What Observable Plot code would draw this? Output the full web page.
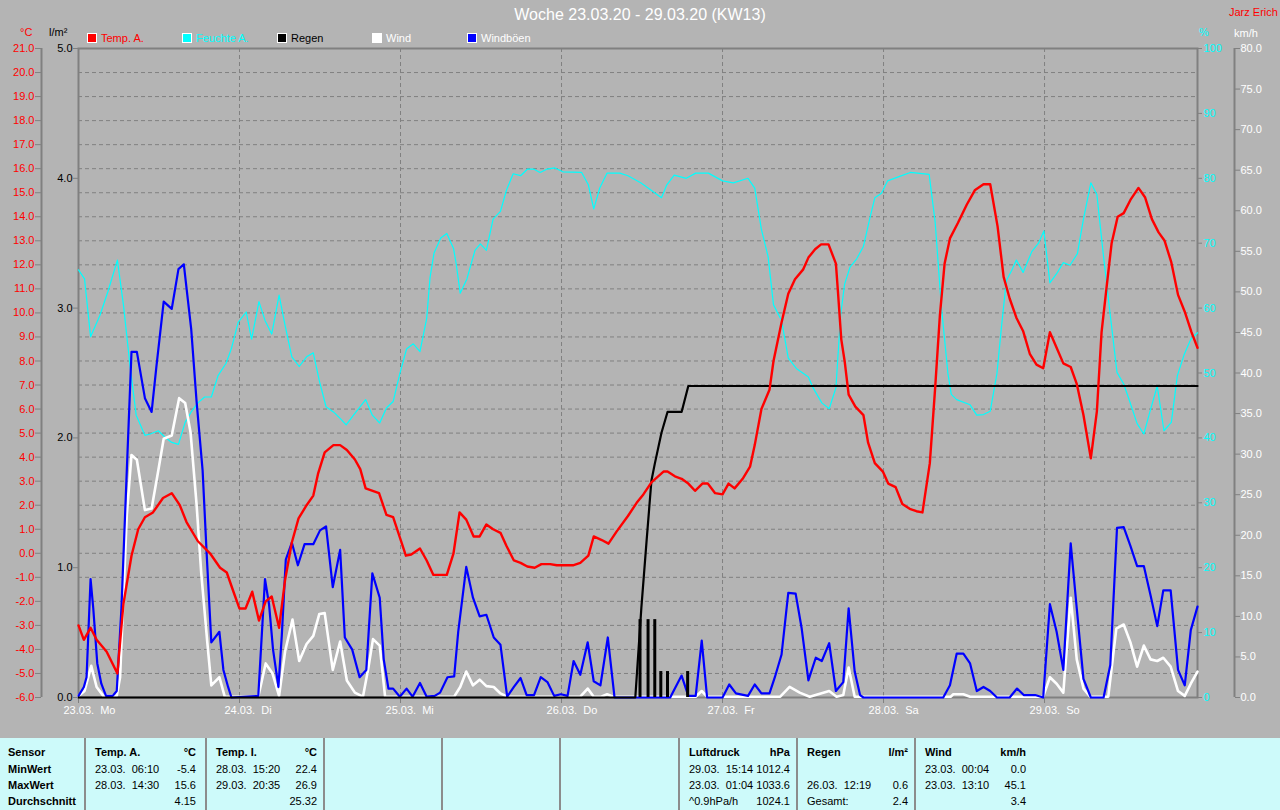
<!DOCTYPE html>
<html>
<head>
<meta charset="utf-8">
<script src="https://cdn.jsdelivr.net/npm/d3@7"></script>
<script src="https://cdn.jsdelivr.net/npm/@observablehq/plot@0.6"></script>
<style>
  body { margin: 0; }
  #root { position: relative; width: 1280px; height: 810px; background: #b4b4b4; overflow: hidden;
          font-family: "Liberation Sans", Arial, sans-serif; font-size: 11px; }
  .abs { position: absolute; white-space: pre; line-height: 14px; }
  .layer { position: absolute; left: 0; top: 0; }
  .sq { position: absolute; width: 10px; height: 10px; box-sizing: border-box; border: 1px solid #fff; }
  #table { position: absolute; left: 0; top: 738px; width: 1280px; height: 72px; background: #cdfafa; }
  .col { position: absolute; top: 0; height: 72px; border-left: 2px solid #8c8c8c; box-sizing: border-box; }
  .cell { position: absolute; white-space: pre; line-height: 14px; color: #000; }
  .b { font-weight: bold; }
</style>
</head>
<body>
<div id="root"></div>
<script>
// ---------------- data ----------------
const dayHours = [0, 24, 48, 72, 96, 120, 144];
const dayLabels = ["23.03.\u00a0\u00a0Mo", "24.03.\u00a0\u00a0Di", "25.03.\u00a0\u00a0Mi", "26.03.\u00a0\u00a0Do", "27.03.\u00a0\u00a0Fr", "28.03.\u00a0\u00a0Sa", "29.03.\u00a0\u00a0So"];
const endHour = 166.8;

const tempHours = [0,0.8,1.8,2.7,4.2,5.8,6.7,7.9,8.9,9.9,11.1,12.6,13.9,15.1,16.1,17.8,19.6,21.1,22.1,23.1,24.0,24.9,25.9,26.9,27.9,28.8,29.9,30.8,31.8,32.8,34.0,35.0,35.7,36.7,38.0,39.0,40.0,41.2,42.0,42.8,44.8,45.9,46.9,48.8,49.6,50.9,51.9,52.9,54.9,55.9,56.8,57.8,58.9,59.8,60.8,61.8,62.9,63.8,64.9,65.9,66.9,68.0,69.0,70.3,71.3,72.8,73.7,74.8,76.0,76.8,78.0,79.0,80.2,81.9,83.2,84.2,85.4,87.2,87.8,88.9,89.9,90.9,91.9,93.0,93.8,94.9,96.0,96.9,97.8,99.0,100.1,100.8,101.8,103.0,103.6,104.8,105.8,106.8,108.0,108.8,109.8,110.7,111.8,112.9,113.2,113.7,114.2,114.8,115.8,117.0,117.7,118.7,119.9,120.7,121.8,122.8,123.9,124.9,125.8,126.9,127.7,128.4,129.1,129.9,131.1,132.4,133.6,134.9,135.9,137.0,137.9,138.8,139.8,140.8,141.8,142.8,143.8,144.8,145.8,146.8,147.9,148.8,149.8,150.9,151.8,152.5,153.3,154.0,154.9,155.8,156.8,158.0,159.0,160.0,161.0,161.9,162.9,163.9,164.9,165.9,166.8];
const tempValues = [-3.0,-3.6,-3.1,-3.6,-4.1,-5.0,-2.1,-0.1,1.0,1.5,1.7,2.3,2.5,2.0,1.3,0.5,0.0,-0.6,-0.8,-1.6,-2.3,-2.3,-1.6,-2.8,-2.0,-1.8,-3.1,-1.1,0.45,1.45,2.0,2.4,3.3,4.2,4.5,4.5,4.3,3.9,3.5,2.7,2.5,1.6,1.5,-0.1,-0.05,0.2,-0.3,-0.9,-0.9,0.0,1.7,1.4,0.7,0.7,1.2,1.0,0.85,0.3,-0.3,-0.4,-0.55,-0.6,-0.45,-0.45,-0.5,-0.5,-0.5,-0.4,-0.1,0.7,0.55,0.4,0.9,1.55,2.1,2.45,2.95,3.4,3.4,3.2,3.1,2.9,2.6,2.9,2.9,2.5,2.45,2.9,2.7,3.1,3.6,4.5,6.0,6.8,8.0,9.6,10.8,11.4,11.8,12.3,12.65,12.85,12.85,12.05,10.9,8.9,8.0,6.6,6.1,5.75,4.6,3.75,3.4,2.9,2.75,2.05,1.85,1.75,1.7,3.75,6.9,9.9,12.05,13.1,13.75,14.5,15.1,15.35,15.35,13.6,11.5,10.6,9.8,9.25,8.3,7.85,7.7,9.2,8.55,7.9,7.75,7.05,5.75,3.95,5.9,9.2,11.2,12.9,14.0,14.15,14.7,15.2,14.8,13.9,13.35,13.0,12.1,10.75,10.05,9.2,8.55];

const humHours = [0,0.9,1.8,3.2,4.4,5.8,6.7,7.7,8.6,9.9,10.7,11.9,12.9,13.9,14.9,15.9,16.8,17.8,18.8,19.8,20.8,22.0,22.8,23.8,25.0,25.8,26.9,27.8,28.8,29.9,30.8,31.8,32.9,34.0,35.0,35.9,36.9,38.0,39.0,39.9,41.0,42.8,43.8,44.9,45.9,46.9,47.9,48.9,49.9,50.9,51.9,52.4,53.0,54.0,54.9,55.9,56.3,56.9,57.9,59.1,59.9,60.8,61.8,62.9,63.8,64.8,65.9,66.9,67.9,68.8,69.8,71.0,72.2,75.0,76.0,76.8,77.7,78.8,80.7,81.9,83.8,84.9,86.9,87.7,88.8,90.6,92.0,93.9,96.0,97.6,99.8,100.8,101.8,102.8,103.6,104.8,105.8,107.0,108.8,109.5,110.8,111.9,112.9,113.6,114.2,115.0,116.0,117.0,118.0,118.7,119.7,120.6,122.4,124.0,126.8,127.7,128.6,129.6,130.1,130.9,132.9,133.9,134.9,135.9,136.9,137.6,138.3,139.1,139.8,140.8,142.1,143.1,143.9,144.8,145.8,146.8,147.8,148.9,149.8,150.9,151.8,152.8,153.8,154.8,155.8,156.7,157.8,158.8,159.7,160.8,161.8,162.9,163.8,164.8,165.8,166.8];
const humValues = [65.9,64.5,55.6,58.9,62.6,67.4,60.5,50.9,43.5,40.4,40.6,41.1,40.1,39.3,39.0,42.4,44.0,45.4,46.3,46.3,49.6,51.5,53.8,57.8,59.4,55.2,61.0,58.1,56.0,62.0,57.3,52.5,51.0,52.5,53.1,48.8,44.8,44.0,43.0,42.0,43.5,45.9,43.5,42.3,44.6,45.6,49.9,53.7,54.5,53.3,58.4,64.7,68.5,70.8,71.5,69.2,66.8,62.3,64.5,68.9,69.9,68.9,73.7,74.9,78.2,80.7,80.4,81.4,81.4,80.9,81.4,81.6,81.0,80.9,79.0,75.3,78.5,80.8,80.8,80.4,79.3,78.5,77.0,79.0,80.5,80.0,80.8,80.8,79.6,79.3,80.0,78.5,72.1,67.9,60.5,58.1,52.3,50.7,49.4,47.7,45.4,44.5,47.7,58.9,63.7,66.3,67.6,69.5,74.0,77.0,77.7,79.6,80.3,80.9,80.6,73.2,60.5,49.9,46.7,45.9,45.1,43.5,43.6,44.1,49.9,57.3,64.2,65.8,67.4,65.5,68.7,70.0,71.9,63.9,65.3,67.0,66.6,68.4,73.7,79.3,77.5,67.9,58.9,50.1,48.3,45.6,42.2,40.6,44.0,48.0,41.1,42.4,49.6,52.8,55.2,56.2];

const rainHours = [0, 83.0, 83.9, 84.7, 85.4, 85.9, 86.9, 87.8, 89.9, 90.9, 166.8];
const rainTotal = [0, 0, 0.69, 1.22, 1.67, 1.80, 2.04, 2.20, 2.20, 2.40, 2.40];
const rainBarHours = [83.7, 84.9, 85.9, 86.8, 87.8, 90.8];
const rainBarValues = [0.6, 0.6, 0.6, 0.2, 0.2, 0.2];

const windHours = [0,0.9,1.9,2.7,3.7,5.7,6.2,7.2,7.9,8.7,9.9,10.9,11.9,12.7,13.9,15.0,15.9,16.7,17.6,18.3,19.2,19.8,21.0,21.8,26.8,27.9,28.9,29.9,30.8,31.9,32.9,34.0,35.0,35.9,36.7,37.9,39.0,40.0,41.2,42.4,43.2,43.9,44.9,45.7,56.0,56.9,57.8,58.8,59.8,60.8,61.9,62.9,63.9,74.8,75.9,76.8,77.9,78.8,79.7,92.0,92.9,93.7,104.6,106.0,107.5,109.0,111.9,113.0,114.0,114.8,115.7,130.0,130.4,131.9,132.9,143.8,144.8,145.8,146.8,147.9,148.8,149.8,150.8,153.5,154.7,155.8,156.8,157.8,158.8,159.8,160.8,161.7,162.8,163.9,164.9,165.8,166.8];
const windValues = [0.2,0.8,3.9,1.3,0.2,0.2,2.5,22.5,29.9,29.3,23.1,23.3,28.0,31.9,32.3,36.9,36.3,32.7,23.8,15.3,6.8,1.5,2.5,0.1,0.1,4.2,3.0,0.2,5.7,9.6,4.5,6.6,7.6,10.3,10.4,3.4,6.9,2.1,0.6,0.1,3.6,7.2,6.4,0.1,0.1,1.3,3.2,1.5,2.2,1.4,1.3,0.5,0.1,0.1,1.1,0.1,0.1,0.4,0.1,0.1,0.8,0.1,0.1,1.3,0.6,0.1,0.8,0.1,0.3,3.7,0.1,0.1,0.4,0.4,0.1,0.1,2.5,1.7,0.6,12.3,4.7,1.1,0.1,0.1,8.5,9.0,6.8,3.8,6.4,4.7,4.5,4.9,3.8,0.8,0.2,1.7,3.2];

const gustHours = [0,0.8,1.2,1.8,2.2,2.8,3.4,4.1,5.1,5.7,6.4,7.2,7.9,8.7,9.9,10.9,11.6,12.7,13.9,14.9,15.7,16.8,17.6,18.5,19.1,19.8,21.0,21.6,22.3,22.8,26.8,27.8,28.4,29.0,29.8,30.3,30.9,31.8,32.7,33.7,35.0,36.0,36.9,37.9,39.0,39.7,40.8,41.9,42.9,43.8,44.9,45.5,46.2,46.9,47.9,48.9,49.8,50.9,51.9,53.1,53.9,55.0,56.0,56.6,57.8,58.8,59.8,60.8,61.9,62.9,63.9,64.9,65.9,66.8,67.9,68.9,69.9,70.9,71.9,72.9,73.8,74.8,75.9,76.8,77.8,78.9,79.7,79.9,88.2,89.9,90.9,92.0,92.9,93.7,96.0,97.0,98.0,99.8,100.8,101.8,103.0,103.8,104.8,105.8,106.9,107.8,108.8,109.9,110.8,111.9,112.9,114.0,114.8,115.7,116.5,117.0,128.9,129.9,130.9,131.9,132.9,133.9,134.9,135.9,136.9,138.8,139.9,140.9,142.6,143.8,144.8,145.8,146.8,147.9,148.8,149.8,150.9,152.8,153.8,154.8,155.8,156.8,157.8,158.8,159.8,160.8,161.7,162.8,163.9,164.9,165.8,166.8];
const gustValues = [0.2,1.3,2.5,14.6,11.0,4.2,1.7,0.2,0.2,0.8,11.0,28.0,42.6,42.6,36.9,35.2,40.7,48.8,47.9,52.8,53.4,45.4,36.5,28.0,17.8,6.8,8.1,3.4,1.3,0,0.2,14.6,11.5,5.9,1.3,7.6,17.0,19.1,16.3,18.9,18.9,20.6,21.1,13.6,18.2,7.4,5.9,2.5,3.4,15.3,12.3,4.7,1.1,1.1,0.1,1.1,0.1,1.8,0.1,0.2,0.6,2.5,2.6,8.1,16.1,12.3,10.0,10.2,7.4,6.5,0.1,1.3,2.4,0.3,0.3,2.5,1.9,0.2,0.4,0.2,4.5,2.8,6.8,2.0,1.5,7.4,1.5,0,0,2.7,0.2,0.2,7.0,0,0,1.6,0.5,0.2,1.6,0.5,0.5,2.5,5.3,12.9,12.8,8.5,2.1,4.9,4.5,6.7,0.8,1.9,11.0,3.2,0.3,0,0,1.5,5.4,5.4,4.2,0.8,1.3,0.8,0,0,1.1,0.3,0.3,0,11.5,8.1,3.4,19.0,11.0,2.3,0,0,4.0,20.9,21.0,18.7,16.2,16.2,12.6,8.8,13.2,13.2,3.4,1.5,8.3,11.2];

const celsiusTicks = d3.range(-6, 22);
const rainTicks = [0, 1, 2, 3, 4, 5];
const humTicks = d3.range(0, 101, 10);
const windTicks = d3.range(0, 81, 5);

const legendNames = ["Temp. A.", "Feuchte A.", "Regen", "Wind", "Windböen"];
const legendColors = ["#ff0000", "#00ffff", "#000000", "#ffffff", "#0000ff"];
const legendTextColors = ["#ff0000", "#00ffff", "#000000", "#ffffff", "#ffffff"];

const rowLabels = ["Sensor", "MinWert", "MaxWert", "Durchschnitt"];
const tableCols = [
  {head: ["Temp. A.", "°C"], rows: [["23.03.  06:10", "-5.4"], ["28.03.  14:30", "15.6"], ["", "4.15"]]},
  {head: ["Temp. I.", "°C"], rows: [["28.03.  15:20", "22.4"], ["29.03.  20:35", "26.9"], ["", "25.32"]]},
  {head: ["", ""], rows: [["", ""], ["", ""], ["", ""]]},
  {head: ["", ""], rows: [["", ""], ["", ""], ["", ""]]},
  {head: ["", ""], rows: [["", ""], ["", ""], ["", ""]]},
  {head: ["Luftdruck", "hPa"], rows: [["29.03.  15:14", "1012.4"], ["23.03.  01:04", "1033.6"], ["^0.9hPa/h", "1024.1"]]},
  {head: ["Regen", "l/m²"], rows: [["", ""], ["26.03.  12:19", "0.6"], ["Gesamt:", "2.4"]]},
  {head: ["Wind", "km/h"], rows: [["23.03.  00:04", "0.0"], ["23.03.  13:10", "45.1"], ["", "3.4"]]}
];

// ---------------- helpers ----------------
const zip = (hs, vs) => hs.map((h, i) => ({h, v: vs[i]}));
const root = document.getElementById("root");
const FONT = "'Liberation Sans', Arial, sans-serif";
const GRID = "#808080";

function layer(yDomain, marks) {
  const svg = Plot.plot({
    width: 1280, height: 735,
    marginLeft: 78, marginRight: 83, marginTop: 48, marginBottom: 38,
    x: {type: "linear", domain: [0, endHour], axis: null, label: null},
    y: {type: "linear", domain: yDomain, axis: null, label: null},
    style: {background: "transparent", overflow: "visible", fontFamily: FONT, fontSize: "11px", color: "#000"},
    marks
  });
  svg.classList.add("layer");
  svg.style.position = "absolute";
  svg.style.left = "0px";
  svg.style.top = "0px";
  root.appendChild(svg);
}

function addText(txt, left, top, color, extra = "") {
  const d = document.createElement("div");
  d.className = "abs";
  d.textContent = txt;
  d.style.cssText += `left:${left}px;top:${top}px;color:${color};${extra}`;
  root.appendChild(d);
  return d;
}

// ---------------- base layer: grid, frame, °C axis, x axis ----------------
layer([-6, 21], [
  Plot.gridY(celsiusTicks.slice(1, -1), {stroke: GRID, strokeOpacity: 1, strokeDasharray: "4,3"}),
  Plot.gridX(dayHours.slice(1), {stroke: GRID, strokeOpacity: 1, strokeDasharray: "4,3"}),
  Plot.frame({stroke: GRID, strokeWidth: 2}),
  Plot.ruleX([0], {dx: -37, stroke: GRID, strokeWidth: 2}),
  Plot.axisY(celsiusTicks, {anchor: "left", dx: -37, tickSize: 6, tickPadding: 1, label: null,
    tickFormat: d => d.toFixed(1), fill: "#ff0000", stroke: GRID, fontSize: 11}),
  Plot.axisX(dayHours, {anchor: "bottom", tickSize: 6, tickFormat: () => "", stroke: GRID, label: null}),
  Plot.text(dayHours, {x: d => d, text: (d, i) => dayLabels[i], frameAnchor: "bottom",
    dy: 16, dx: -15, textAnchor: "start", fill: "#ffffff", fontSize: 11})
]);

// ---------------- humidity ----------------
layer([0, 100], [
  Plot.line(zip(humHours, humValues), {x: "h", y: "v", stroke: "#00ffff", strokeWidth: 1.2}),
  Plot.axisY(humTicks, {anchor: "right", tickSize: 4, tickPadding: 2, tickFormat: d => String(d), label: null,
    fill: "#00ffff", stroke: GRID, fontSize: 11})
]);

// ---------------- wind & gusts ----------------
layer([0, 80], [
  Plot.line(zip(windHours, windValues), {x: "h", y: "v", stroke: "#ffffff", strokeWidth: 2.6}),
  Plot.line(zip(gustHours, gustValues), {x: "h", y: "v", stroke: "#0000ff", strokeWidth: 2.2}),
  Plot.ruleX([endHour], {dx: 37, stroke: GRID, strokeWidth: 2}),
  Plot.axisY(windTicks, {anchor: "right", dx: 37, tickSize: 5, tickPadding: 1, label: null,
    tickFormat: d => d.toFixed(1), fill: "#ffffff", stroke: GRID, fontSize: 11})
]);

// ---------------- rain ----------------
layer([0, 5], [
  Plot.ruleX(zip(rainBarHours, rainBarValues), {x: "h", y1: 0, y2: "v", stroke: "#000000", strokeWidth: 3}),
  Plot.line(zip(rainHours, rainTotal), {x: "h", y: "v", stroke: "#000000", strokeWidth: 2.2}),
  Plot.axisY(rainTicks, {anchor: "left", tickSize: 5, tickPadding: 1, tickFormat: d => d.toFixed(1), label: null,
    fill: "#000000", stroke: GRID, fontSize: 11})
]);

// ---------------- temperature ----------------
layer([-6, 21], [
  Plot.line(zip(tempHours, tempValues), {x: "h", y: "v", stroke: "#ff0000", strokeWidth: 2.4})
]);

// ---------------- header texts ----------------
addText("Woche 23.03.20 - 29.03.20 (KW13)", 0, 6, "#ffffff",
  "width:1280px;text-align:center;font-size:16px;line-height:18px;");
addText("Jarz Erich", 1229, 5, "#ff0000");
addText("°C", 20, 25, "#ff0000");
addText("l/m²", 49, 25, "#000000");
addText("%", 1199, 25, "#00ffff");
addText("km/h", 1234, 26, "#ffffff");

legendNames.forEach((name, i) => {
  const x = 87 + i * 95;
  const sq = document.createElement("div");
  sq.className = "sq";
  sq.style.left = x + "px";
  sq.style.top = "33px";
  sq.style.background = legendColors[i];
  root.appendChild(sq);
  addText(name, x + 14, 31, legendTextColors[i]);
});

// ---------------- bottom table ----------------
const table = document.createElement("div");
table.id = "table";
root.appendChild(table);
const rowTops = [7, 24, 40, 56];
function cell(parent, txt, left, top, cls, align) {
  const c = document.createElement("div");
  c.className = "cell " + (cls || "");
  c.textContent = txt;
  if (align === "right") { c.style.right = left + "px"; } else { c.style.left = left + "px"; }
  c.style.top = top + "px";
  parent.appendChild(c);
}
rowLabels.forEach((t, r) => cell(table, t, 8, rowTops[r], "b"));
const colStarts = [84, 205, 323, 441, 559, 678, 796, 914];
tableCols.forEach((col, k) => {
  const start = colStarts[k];
  const w = k < colStarts.length - 1 ? colStarts[k + 1] - start : 1280 - start;
  const c = document.createElement("div");
  c.className = "col";
  c.style.left = start + "px";
  c.style.width = w + "px";
  if (k === colStarts.length - 1) c.style.borderRight = "none";
  table.appendChild(c);
  const rightPad = w - 112;
  cell(c, col.head[0], 9, rowTops[0], "b");
  cell(c, col.head[1], rightPad, rowTops[0], "b", "right");
  col.rows.forEach((row, r) => {
    cell(c, row[0], 9, rowTops[r + 1], "");
    cell(c, row[1], rightPad, rowTops[r + 1], "", "right");
  });
});
</script>
</body>
</html>
